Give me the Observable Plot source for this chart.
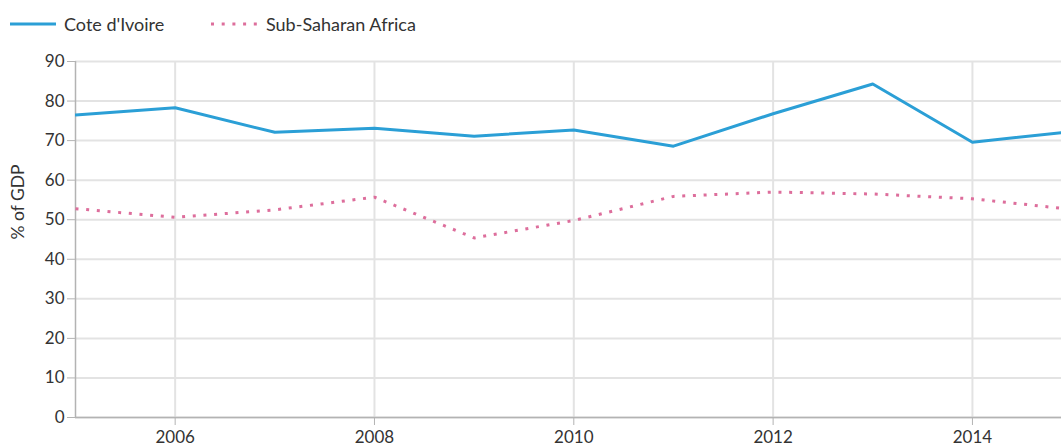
<!DOCTYPE html>
<html>
<head>
<meta charset="utf-8">
<script src="https://cdn.jsdelivr.net/npm/d3@7"></script>
<script src="https://cdn.jsdelivr.net/npm/@observablehq/plot@0.6"></script>
<style>
  html, body { margin: 0; padding: 0; background: #fff; overflow: hidden; width: 1061px; height: 447px; }
  body { font-family: Lato, "Open Sans", sans-serif; color: #333; }
  #legend { height: 45px; position: relative; font-size: 18px; }
  .item { position: absolute; top: 13px; display: flex; align-items: center; }
  .item svg { margin-right: 8px; }
  #chart svg { overflow: hidden; }
</style>
</head>
<body>
<div id="legend"></div>
<div id="chart"></div>
<script>
const years = [2005, 2006, 2007, 2008, 2009, 2010, 2011, 2012, 2013, 2014, 2015];
const coteDIvoire = [76.5, 78.3, 72.1, 73.1, 71.1, 72.7, 68.6, 76.8, 84.3, 69.6, 72.3];
const subSaharanAfrica = [52.8, 50.6, 52.5, 55.7, 45.4, 49.8, 55.9, 57.0, 56.5, 55.3, 52.6];
const seriesNames = ["Cote d'Ivoire", "Sub-Saharan Africa"];
const xTicks = [2006, 2008, 2010, 2012, 2014];
const yTicks = [0, 10, 20, 30, 40, 50, 60, 70, 80, 90];
const yLabel = "% of GDP";

const blue = "#2b9fd6";
const pink = "#dd6e9c";

const data = [];
years.forEach((y, i) => {
  data.push({year: y, value: coteDIvoire[i], series: seriesNames[0]});
  data.push({year: y, value: subSaharanAfrica[i], series: seriesNames[1]});
});

// legend
const legend = document.getElementById("legend");
legend.innerHTML = `
  <div class="item" style="left:10px"><svg width="46" height="6"><line x1="0" x2="46" y1="3" y2="3" stroke="${blue}" stroke-width="3"/></svg><span>${seriesNames[0]}</span></div>
  <div class="item" style="left:210px"><svg width="48" height="6"><line x1="1" x2="48" y1="3" y2="3" stroke="${pink}" stroke-width="3" stroke-dasharray="3 7.7"/></svg><span>${seriesNames[1]}</span></div>
`;

const plot = Plot.plot({
  width: 1061,
  height: 402,
  marginLeft: 75,
  marginRight: 0,
  marginTop: 16,
  marginBottom: 30,
  style: {fontFamily: "Lato, 'Open Sans', sans-serif", fontSize: "17px", color: "#333", background: "#fff", overflow: "hidden"},
  x: {domain: [2005, 2015], range: [75, 1071.6]},
  y: {domain: [0, 90]},
  marks: [
    Plot.gridY(yTicks, {stroke: "#e3e3e3", strokeOpacity: 1, strokeWidth: 2}),
    Plot.gridX(xTicks, {stroke: "#e3e3e3", strokeOpacity: 1, strokeWidth: 2}),
    Plot.ruleY([0], {stroke: "#b3b3b3", strokeWidth: 1.5}),
    Plot.ruleX([2005], {stroke: "#b3b3b3", strokeWidth: 1.5}),
    Plot.axisY(yTicks, {tickSize: 8, tickPadding: 3, stroke: "#b3b3b3", fill: "#333", fontSize: 17, label: null}),
    Plot.axisX(xTicks, {tickSize: 8, tickPadding: 5, stroke: "#b3b3b3", fill: "#333", fontSize: 17, tickFormat: d => String(d), label: null}),
    Plot.text([yLabel], {frameAnchor: "left", dx: -57, rotate: -90, fontSize: 17.5, fill: "#333"}),
    Plot.line(data.filter(d => d.series === seriesNames[1]), {x: "year", y: "value", stroke: pink, strokeWidth: 3, strokeLinecap: "butt", strokeDasharray: "3 7.7", clip: true}),
    Plot.line(data.filter(d => d.series === seriesNames[0]), {x: "year", y: "value", stroke: blue, strokeWidth: 3, clip: true})
  ]
});
document.getElementById("chart").appendChild(plot);
</script>
</body>
</html>
